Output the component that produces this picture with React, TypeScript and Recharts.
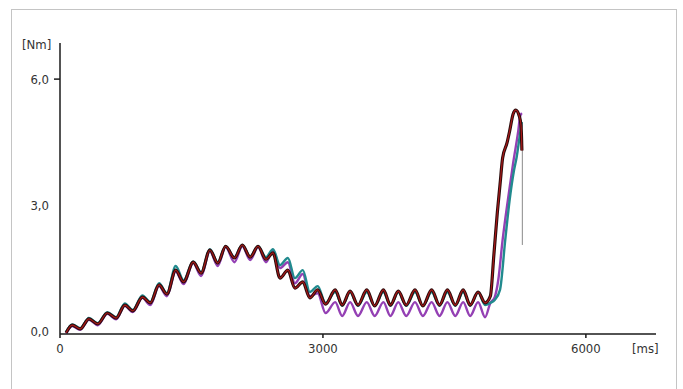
import { LineChart, Line, XAxis, YAxis } from 'recharts';

const FONT = '"Liberation Sans Narrow", "DejaVu Sans Condensed", "Arial Narrow", sans-serif';

// shared time base for the oscillating part (alternating trough / peak), ms
const waveMs = [
  70, 140, 230, 330, 430, 540, 640, 740, 830, 940,
  1030, 1130, 1220, 1320, 1410, 1520, 1610, 1710, 1800, 1890,
  1990, 2080, 2170, 2260, 2350, 2430, 2510, 2600, 2680, 2770,
  2850, 2940, 3030, 3140, 3220, 3310, 3400, 3500, 3590, 3690,
  3770, 3860, 3950, 4050, 4140, 4240, 4330, 4420, 4510, 4600,
  4680, 4770, 4850,
];

const blackWaveNm = [
  -0.04, 0.14, 0.05, 0.29, 0.17, 0.43, 0.31, 0.62, 0.48, 0.81,
  0.67, 1.10, 0.88, 1.45, 1.17, 1.64, 1.38, 1.93, 1.62, 2.02,
  1.74, 2.05, 1.76, 2.02, 1.71, 1.86, 1.26, 1.45, 1.02, 1.17,
  0.79, 0.98, 0.64, 0.98, 0.62, 0.95, 0.62, 0.98, 0.60, 0.98,
  0.62, 0.95, 0.62, 0.98, 0.60, 0.98, 0.62, 0.98, 0.62, 0.98,
  0.62, 0.93, 0.67,
];
const blackRiseMs = [4910, 4950, 4990, 5020, 5050, 5100, 5130, 5170, 5200, 5240, 5260, 5270];
const blackRiseNm = [0.83, 1.81, 2.83, 3.48, 4.12, 4.48, 4.76, 5.17, 5.26, 5.12, 4.9, 4.3];

const tealWaveNm = [
  -0.02, 0.16, 0.07, 0.31, 0.19, 0.45, 0.33, 0.66, 0.50, 0.85,
  0.69, 1.14, 0.90, 1.55, 1.21, 1.66, 1.40, 1.95, 1.64, 2.02,
  1.76, 2.05, 1.78, 2.02, 1.76, 1.95, 1.57, 1.74, 1.26, 1.45,
  0.93, 1.07, 0.67, 0.93, 0.60, 0.93, 0.60, 0.93, 0.60, 0.93,
  0.60, 0.93, 0.60, 0.93, 0.60, 0.93, 0.60, 0.93, 0.60, 0.93,
  0.60, 0.93, 0.62,
];
const tealRiseMs = [4910, 4960, 5020, 5080, 5130, 5180, 5210, 5250, 5270];
const tealRiseNm = [0.67, 0.74, 0.98, 2.17, 3.12, 3.83, 4.14, 4.71, 4.98];

const purpleWaveNm = [
  -0.06, 0.12, 0.03, 0.27, 0.14, 0.41, 0.28, 0.60, 0.45, 0.79,
  0.62, 1.07, 0.83, 1.42, 1.12, 1.62, 1.31, 1.90, 1.55, 2.00,
  1.64, 2.02, 1.69, 2.00, 1.64, 1.93, 1.50, 1.64, 1.14, 1.36,
  0.83, 0.90, 0.43, 0.69, 0.36, 0.69, 0.36, 0.69, 0.36, 0.69,
  0.36, 0.69, 0.36, 0.69, 0.36, 0.69, 0.36, 0.69, 0.36, 0.69,
  0.36, 0.69, 0.33,
];
const purpleRiseMs = [4910, 4960, 5000, 5050, 5110, 5170, 5230, 5250, 5270];
const purpleRiseNm = [0.67, 0.81, 1.21, 2.17, 3.12, 4.0, 4.79, 5.12, 5.19];

const grayMs = [5275, 5275];
const grayNm = [4.62, 2.05];

const xTicks = [0, 3000, 6000];
const yTicks = [0, 3, 6];

const toPoints = (ts: number[], vs: number[]) => ts.map((t, i) => ({ t, v: vs[i] }));

const blackData = toPoints([...waveMs, ...blackRiseMs], [...blackWaveNm, ...blackRiseNm]);
const tealData = toPoints([...waveMs, ...tealRiseMs], [...tealWaveNm, ...tealRiseNm]);
const purpleData = toPoints([...waveMs, ...purpleRiseMs], [...purpleWaveNm, ...purpleRiseNm]);
const grayData = toPoints(grayMs, grayNm);

const YTick = (props: any) => {
  const { x, y, payload } = props;
  return (
    <g>
      {payload.value === 6 && <line x1={x + 5} x2={x + 11} y1={y} y2={y} stroke="#1a1a1a" strokeWidth={1.5} />}
      <text x={x} y={y} dy="0.355em" textAnchor="end" fill="#333" fontSize={13} fontFamily={FONT}>
        {payload.value.toFixed(1).replace('.', ',')}
      </text>
    </g>
  );
};

export default function App() {
  return (
    <div style={{ position: 'absolute', left: 0, top: 0, width: 683, height: 389, overflow: 'hidden', background: '#fff' }}>
      <div
        style={{
          position: 'absolute',
          left: 11,
          top: 9,
          width: 664,
          height: 420,
          border: '1px solid #c4c4c4',
        }}
      />
      <span style={{ position: 'absolute', left: 22, top: 37, fontFamily: FONT, fontSize: 13, color: '#333' }}>[Nm]</span>
      <span style={{ position: 'absolute', left: 632, top: 341, fontFamily: FONT, fontSize: 13, color: '#333' }}>[ms]</span>
      <div style={{ position: 'absolute', left: 0, top: 0 }}>
        <LineChart width={683} height={389} margin={{ top: 43, right: 27, left: 0, bottom: 25 }}>
          <XAxis
            type="number"
            dataKey="t"
            domain={[0, 6800]}
            ticks={xTicks}
            allowDataOverflow
            height={30}
            tickSize={4}
            tickMargin={6}
            axisLine={{ stroke: '#1a1a1a', strokeWidth: 1.5 }}
            tickLine={{ stroke: '#1a1a1a', strokeWidth: 1.5 }}
            tick={{ fill: '#333', fontSize: 13, fontFamily: FONT }}
          />
          <YAxis
            type="number"
            dataKey="v"
            domain={[-0.07, 6.86]}
            ticks={yTicks}
            allowDataOverflow
            width={60}
            tickSize={6}
            tickMargin={5}
            tickLine={false}
            axisLine={{ stroke: '#1a1a1a', strokeWidth: 1.5 }}
            tick={<YTick />}
          />
          <Line data={grayData} dataKey="v" type="linear" stroke="#8a8a8a" strokeWidth={1} dot={false} isAnimationActive={false} />
          <Line data={purpleData} dataKey="v" type="monotone" stroke="#9440b4" strokeWidth={2.4} dot={false} isAnimationActive={false} />
          <Line data={tealData} dataKey="v" type="monotone" stroke="#218a8e" strokeWidth={2.4} dot={false} isAnimationActive={false} />
          <Line data={blackData} dataKey="v" type="monotone" stroke="#2a0c0c" strokeWidth={3.2} dot={false} isAnimationActive={false} />
          <Line data={blackData} dataKey="v" type="monotone" stroke="#a81818" strokeWidth={1.2} dot={false} isAnimationActive={false} />
        </LineChart>
      </div>
    </div>
  );
}
